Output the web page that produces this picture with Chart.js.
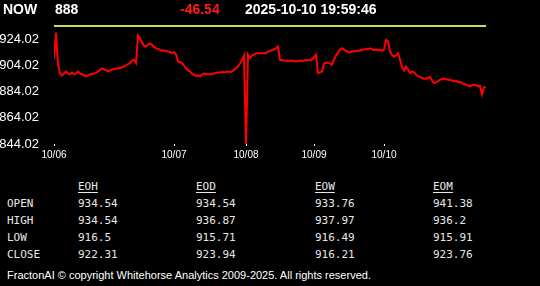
<!DOCTYPE html>
<html>
<head>
<meta charset="utf-8">
<script src="https://cdn.jsdelivr.net/npm/chart.js@4.4.1/dist/chart.umd.min.js"></script>
<style>
    html, body { margin: 0; padding: 0; background: #000; width: 540px; height: 286px; overflow: hidden; }
    #wrap { position: relative; width: 540px; height: 286px; }
    .hdr { position: absolute; top: 1px; line-height: 16px; font: bold 14px "Liberation Sans", Arial, sans-serif; color: #fff; white-space: nowrap; }
    #chartBox { position: absolute; left: 0; top: 0; width: 540px; height: 170px; }
    .cell { position: absolute; font: 11px "DejaVu Sans Mono", monospace; color: #e8e8e8; line-height: 14px; white-space: nowrap; }
    .head { text-decoration: underline; text-underline-offset: 2px; }
    #foot { position: absolute; left: 7px; top: 268px; font: 11px "Liberation Sans", Arial, sans-serif; color: #fff; line-height: 14px; white-space: nowrap; }
</style>
</head>
<body>
<div id="wrap">
    <div id="chartBox"><canvas id="priceChart"></canvas></div>
    <div id="hdr"></div>
    <div id="table"></div>
    <div id="foot">FractonAI © copyright Whitehorse Analytics 2009-2025. All rights reserved.</div>
</div>
<script>
// --- dados ---
const nowValue = '888';
const changeValue = '-46.54';
const stampText = '2025-10-10 19:59:46';
const refLevel = 934.54;

const dayLabels = ['10/06', '10/07', '10/08', '10/09', '10/10'];

const day1 = [909.0, 929.4, 905.0, 898.0, 896.6, 898.1, 899.6, 898.1, 897.4, 898.9,
    897.4, 898.1, 899.6, 898.1, 897.4, 896.6, 895.8, 896.6, 897.4, 897.4,
    898.1, 898.5, 899.6, 900.8, 901.9, 901.2, 900.8, 899.6, 900.4, 901.2,
    901.5, 901.9, 901.9, 902.3, 902.7, 903.4, 904.2, 905.3, 906.0, 908.0,
    908.4, 906.1, 927.1, 924.8, 921.7, 919.4, 918.7, 920.2, 921.0, 920.2,
    918.3, 917.5, 916.8, 916.2, 915.6, 915.6, 915.3, 914.9, 914.5, 913.7];
const day2 = [914.5, 912.6, 907.3, 906.9, 906.0, 904.2, 901.9, 900.4, 899.6, 898.1,
    897.0, 896.2, 896.6, 895.8, 897.4, 898.1, 897.7, 897.4, 897.4, 897.7,
    898.1, 898.5, 898.9, 898.9, 899.2, 898.9, 899.2, 899.6, 899.2, 899.6,
    900.8, 901.9, 903.4, 905.7, 908.0, 911.8];
const day3 = [844.02, 912.6, 909.9, 911.8, 912.6, 913.4, 913.7, 913.4, 913.6, 913.7,
    913.4, 914.9, 915.3, 916.0, 916.4, 917.5, 918.7, 908.6, 908.4, 908.0,
    907.8, 908.0, 907.6, 908.0, 907.6, 907.3, 907.6, 908.0, 907.6, 908.0,
    908.4, 908.0, 908.4, 908.6];
const day4 = [910.3, 912.4, 898.3, 898.9, 899.6, 905.7, 906.1, 906.5, 905.7, 904.9,
    908.8, 911.8, 914.1, 916.4, 917.4, 916.4, 915.3, 914.9, 914.1, 914.9,
    914.9, 915.3, 915.6, 915.4, 916.2, 916.4, 916.8, 916.6, 917.4, 916.8,
    916.0, 916.4, 916.0, 916.2, 915.6];
const day5 = [916.2, 923.8, 922.5, 914.9, 912.3, 911.1, 911.8, 913.6, 908.8, 902.7,
    900.4, 903.4, 901.2, 898.3, 899.6, 898.9, 897.4, 895.8, 895.5, 894.7,
    894.3, 894.1, 894.7, 895.5, 892.8, 890.7, 891.3, 892.0, 893.2, 893.9,
    894.1, 893.6, 893.2, 893.3, 892.8, 892.0, 892.4, 891.6, 891.5, 890.9,
    890.0, 889.7, 889.0, 888.2, 889.0, 889.5, 889.0, 888.2, 888.6, 882.1,
    887.4, 888.0];

const yTicks = [844.02, 864.02, 884.02, 904.02, 924.02];

const statCols = ['EOH', 'EOD', 'EOW', 'EOM'];
const statRows = ['OPEN', 'HIGH', 'LOW', 'CLOSE'];
const openVals = ['934.54', '934.54', '933.76', '941.38'];
const highVals = ['934.54', '936.87', '937.97', '936.2'];
const lowVals = ['916.5', '915.71', '916.49', '915.91'];
const closeVals = ['922.31', '923.94', '916.21', '923.76'];

// --- cabeçalho ---
const hdr = document.getElementById('hdr');
[[nowValue === '' ? '' : 'NOW', 3, '#fff'], [nowValue, 55, '#fff'], [changeValue, 180, '#ff1a1a'], [stampText, 245, '#fff']]
    .forEach(([txt, left, color]) => {
        const d = document.createElement('div');
        d.className = 'hdr';
        d.style.left = left + 'px';
        d.style.color = color;
        d.textContent = txt;
        hdr.appendChild(d);
    });

// --- tabela ---
const table = document.getElementById('table');
const colX = [78, 196, 315, 433];
const rowY = [197, 214, 231, 248];
function addCell(txt, left, top, cls) {
    const d = document.createElement('div');
    d.className = 'cell' + (cls ? ' ' + cls : '');
    d.style.left = left + 'px';
    d.style.top = top + 'px';
    d.textContent = txt;
    table.appendChild(d);
}
statCols.forEach((c, i) => addCell(c, colX[i], 180, 'head'));
const rowVals = [openVals, highVals, lowVals, closeVals];
statRows.forEach((r, j) => {
    addCell(r, 7, rowY[j]);
    rowVals[j].forEach((v, i) => addCell(v, colX[i], rowY[j]));
});

// --- gráfico ---
const series = [...day1, ...day2, ...day3, ...day4, ...day5];
const dayStarts = [0, day1.length, day1.length + day2.length,
    day1.length + day2.length + day3.length,
    day1.length + day2.length + day3.length + day4.length];
const points = series.map((v, i) => ({ x: i, y: v }));
const lastIdx = series.length - 1;

const ctx = document.getElementById('priceChart').getContext('2d');
new Chart(ctx, {
    type: 'line',
    data: {
        datasets: [
            {
                data: points,
                borderColor: '#ff0000',
                borderWidth: 2,
                pointRadius: 0,
                tension: 0
            },
            {
                data: [{ x: 0, y: refLevel }, { x: lastIdx, y: refLevel }],
                borderColor: '#c8dc5a',
                borderWidth: 2,
                pointRadius: 0
            }
        ]
    },
    options: {
        responsive: true,
        maintainAspectRatio: false,
        animation: false,
        layout: { padding: { top: 24, right: 54, bottom: 0, left: 0 } },
        plugins: { legend: { display: false }, tooltip: { enabled: false } },
        scales: {
            x: {
                type: 'linear',
                min: 0,
                max: lastIdx,
                afterBuildTicks: axis => { axis.ticks = dayStarts.map(v => ({ value: v })); },
                afterFit: scale => { scale.height = 26; },
                grid: { drawOnChartArea: false, drawTicks: true, tickLength: 2, color: '#fff' },
                border: { display: false },
                ticks: {
                    color: '#fff',
                    font: { family: 'Liberation Sans', size: 10 },
                    padding: 3,
                    maxRotation: 0,
                    autoSkip: false,
                    callback: (value, index) => dayLabels[index]
                }
            },
            y: {
                min: 844.02,
                max: 936,
                afterBuildTicks: axis => { axis.ticks = yTicks.map(v => ({ value: v })); },
                afterFit: scale => { scale.width = 54; },
                grid: { display: false },
                border: { display: false },
                ticks: {
                    color: '#fff',
                    font: { family: 'Liberation Sans', size: 13 },
                    padding: 7,
                    callback: value => value.toFixed(2)
                }
            }
        }
    }
});
</script>
</body>
</html>
